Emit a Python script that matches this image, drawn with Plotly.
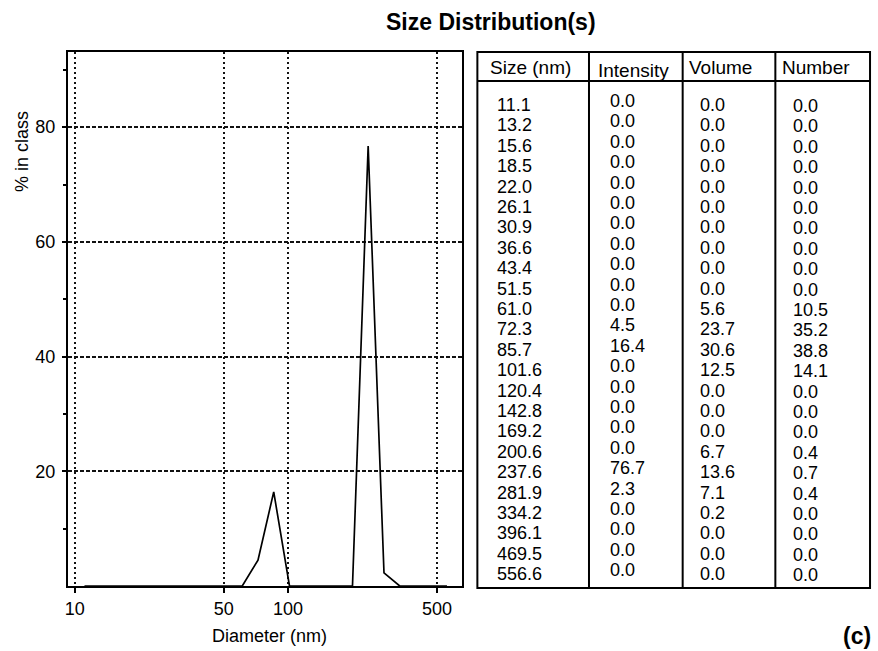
import plotly.graph_objects as go

# ---- data ----
sizes = [11.1, 13.2, 15.6, 18.5, 22.0, 26.1, 30.9, 36.6, 43.4, 51.5, 61.0, 72.3,
         85.7, 101.6, 120.4, 142.8, 169.2, 200.6, 237.6, 281.9, 334.2, 396.1, 469.5, 556.6]
intensity = [0.0, 0.0, 0.0, 0.0, 0.0, 0.0, 0.0, 0.0, 0.0, 0.0, 0.0, 4.5,
             16.4, 0.0, 0.0, 0.0, 0.0, 0.0, 76.7, 2.3, 0.0, 0.0, 0.0, 0.0]
volume = [0.0, 0.0, 0.0, 0.0, 0.0, 0.0, 0.0, 0.0, 0.0, 0.0, 5.6, 23.7,
          30.6, 12.5, 0.0, 0.0, 0.0, 6.7, 13.6, 7.1, 0.2, 0.0, 0.0, 0.0]
number = [0.0, 0.0, 0.0, 0.0, 0.0, 0.0, 0.0, 0.0, 0.0, 0.0, 10.5, 35.2,
          38.8, 14.1, 0.0, 0.0, 0.0, 0.4, 0.7, 0.4, 0.0, 0.0, 0.0, 0.0]
x_ticks = [10, 50, 100, 500]
y_ticks = [20, 40, 60, 80]
y_minor = [10, 30, 50, 70, 90]
headers = ["Size (nm)", "Intensity", "Volume", "Number"]

W, H = 878, 651
FONT = "Liberation Sans, Arial, sans-serif"


def px(x):
    return x / W


def py(y):
    return 1 - y / H


fig = go.Figure()
fig.add_trace(go.Scatter(x=sizes, y=intensity, mode="lines",
                         line=dict(color="black", width=1.7), showlegend=False,
                         hoverinfo="x+y"))

fig.update_layout(
    width=W, height=H, margin=dict(l=0, r=0, t=0, b=0),
    paper_bgcolor="white", plot_bgcolor="white",
    font=dict(family=FONT, color="black", size=18),
    xaxis=dict(type="log", domain=[px(65), px(461)], range=[0.967, 2.818],
               tickvals=x_ticks, ticktext=[str(v) for v in x_ticks],
               ticks="outside", ticklen=5, tickwidth=1.5, tickcolor="black",
               ticklabelstandoff=0,
               showgrid=True, gridcolor="#111111", gridwidth=2, griddash="2px,3px",
               showline=True, linecolor="black", linewidth=2, mirror=True,
               zeroline=False, tickfont=dict(size=18)),
    yaxis=dict(domain=[py(586), py(52)], range=[0, 93.1],
               tickvals=y_ticks, ticktext=[str(v) for v in y_ticks],
               ticks="outside", ticklen=4, tickwidth=1.5, tickcolor="black",
               ticklabelstandoff=3,
               minor=dict(tickvals=y_minor, ticks="outside", ticklen=3,
                          tickcolor="black", showgrid=False),
               showgrid=True, gridcolor="#111111", gridwidth=2, griddash="4px,2px",
               showline=True, linecolor="black", linewidth=2, mirror=True,
               zeroline=False, tickfont=dict(size=18)),
)

ann = []
# titles
ann.append(dict(text="<b>Size Distribution(s)</b>", x=px(490), y=py(22), xref="paper", yref="paper",
                showarrow=False, font=dict(size=23), xanchor="center", yanchor="middle"))
ann.append(dict(text="Diameter (nm)", x=px(267), y=py(636), xref="paper", yref="paper",
                showarrow=False, font=dict(size=18), xanchor="center", yanchor="middle"))
ann.append(dict(text="% in class", x=px(19), y=py(151), xref="paper", yref="paper",
                showarrow=False, font=dict(size=18), textangle=-90,
                xanchor="center", yanchor="middle"))
ann.append(dict(text="<b>(c)</b>", x=px(857), y=py(636), xref="paper", yref="paper",
                showarrow=False, font=dict(size=23), xanchor="center", yanchor="middle"))

# table geometry
tl, tr, tt, tb, th = 476, 870, 52, 588, 81
dividers = [588, 682, 775]
shapes = [dict(type="rect", xref="paper", yref="paper", x0=px(tl), x1=px(tr), y0=py(tb), y1=py(tt),
               line=dict(color="black", width=2)),
          dict(type="line", xref="paper", yref="paper", x0=px(tl), x1=px(tr), y0=py(th), y1=py(th),
               line=dict(color="black", width=2))]
for d in dividers:
    shapes.append(dict(type="line", xref="paper", yref="paper", x0=px(d), x1=px(d),
                       y0=py(tb), y1=py(tt), line=dict(color="black", width=2)))

header_x = [529, 633, 720, 816]
header_dy = [0, 3, 0, 0]
for h, hx, dy in zip(headers, header_x, header_dy):
    ann.append(dict(text=h, x=px(hx), y=py(67 + dy), xref="paper", yref="paper",
                    showarrow=False, font=dict(size=19), xanchor="center", yanchor="middle"))

col_x = [494, 607, 697, 791]
col_dy = [0, -4, 0, 1]
columns = [[f"{v:.1f}" for v in sizes], [f"{v:.1f}" for v in intensity],
           [f"{v:.1f}" for v in volume], [f"{v:.1f}" for v in number]]
row0, row_step = 105, 20.4
for col, cx, dy in zip(columns, col_x, col_dy):
    for i, t in enumerate(col):
        ann.append(dict(text=t, x=px(cx), y=py(row0 + i * row_step + dy), xref="paper", yref="paper",
                        showarrow=False, font=dict(size=18), xanchor="left", yanchor="middle"))

fig.update_layout(annotations=ann, shapes=shapes)
fig.write_html("out.html")
